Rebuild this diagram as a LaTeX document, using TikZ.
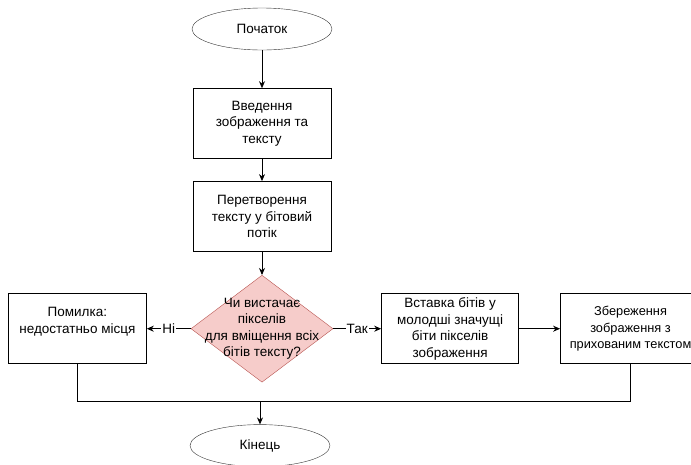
\documentclass[tikz,border=0pt]{standalone}
\usepackage{fontspec}
\setmainfont{Liberation Sans}
\usetikzlibrary{arrows.meta, positioning, shapes.geometric}

\begin{document}
\begin{tikzpicture}[node distance=22pt,
  txt/.style={font=\fontsize{13.5}{16.5}\selectfont, align=center},
  terminal/.style={draw=black!80, ellipse, txt, minimum width=140pt, minimum height=42pt, inner sep=0pt},
  process/.style={draw, rectangle, txt, minimum width=138pt, minimum height=70pt, inner sep=0pt, line width=0.9pt},
  decision/.style={draw={rgb,255:red,184;green,84;blue,80}, fill={rgb,255:red,246;green,204;blue,202},
    diamond, minimum width=142pt, minimum height=107pt, inner sep=0pt},
  arrow/.style={-{Stealth[length=7pt,width=6pt]}, line width=0.9pt},
  link/.style={line width=0.9pt}]
\useasboundingbox (0,0) rectangle (691pt,-464pt);

\node[terminal] (start) at (262pt,-29pt) {Початок};
\node[process, below=38pt of start] (input) {Введення\\зображення та\\тексту};
\node[process, below=of input] (convert) {Перетворення\\тексту у бітовий\\потік};
\node[decision, below=23pt of convert] (check) {};
\node[txt] (checktext) at (check) {Чи вистачає\\пікселів\\для вміщення всіх\\бітів тексту?};

\node[process, left=44pt of check] (error) {Помилка:\\недостатньо місця\\~};
\node[process, right=48pt of check, minimum width=137pt] (embed) {Вставка бітів у\\молодші значущі\\біти пікселів\\зображення};
\node[process, right=41pt of embed, minimum width=140pt, font=\fontsize{12.8}{16.5}\selectfont] (save) {Збереження\\зображення з\\прихованим текстом};

\node[terminal, below=42pt of check, xshift=-2pt] (end) {Кінець};
\coordinate[above=23pt of end] (merge);

\draw[arrow] (start) -- (input);
\draw[arrow] (input) -- (convert);
\draw[arrow] (convert) -- (check);
\draw[arrow] (check) -- node[txt, fill=white, inner sep=1pt] (no) {Ні} (error);
\draw[arrow] (check) -- node[txt, fill=white, inner sep=1pt] (yes) {Так} (embed);
\draw[arrow] (embed) -- (save);
\draw[link] (error.south) |- (merge);
\draw[link] (save.south) |- (merge);
\draw[arrow] (merge) -- (end);
\end{tikzpicture}
\end{document}
